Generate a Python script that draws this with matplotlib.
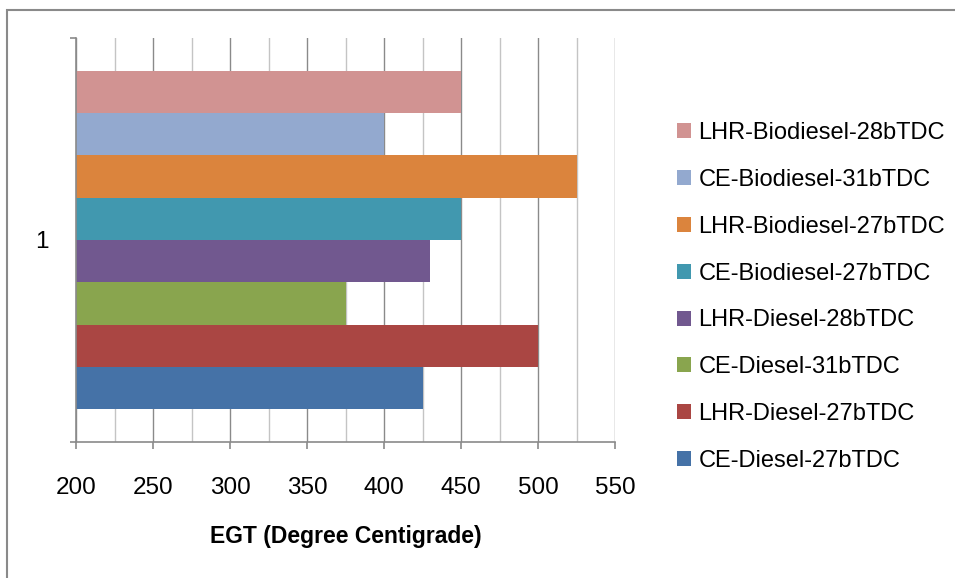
import numpy as np
import matplotlib
matplotlib.use("Agg")
import matplotlib.pyplot as plt
from matplotlib.patches import Rectangle

# series, bottom to top as drawn
series = ["CE-Diesel-27bTDC", "LHR-Diesel-27bTDC", "CE-Diesel-31bTDC", "LHR-Diesel-28bTDC",
          "CE-Biodiesel-27bTDC", "LHR-Biodiesel-27bTDC", "CE-Biodiesel-31bTDC", "LHR-Biodiesel-28bTDC"]
egt = [425, 500, 375, 430, 450, 525, 400, 450]
colors = ["#4572A7", "#AA4643", "#89A54E", "#71588F", "#4198AF", "#DB843D", "#93A9CF", "#D19392"]
category = [1]
xticks = [200, 250, 300, 350, 400, 450, 500, 550]

plt.rcParams['font.family'] = ['Liberation Sans', 'DejaVu Sans']

fig = plt.figure(figsize=(9.55, 5.78), dpi=100)
ax = fig.add_axes([76/955, 1 - 442/578, 539/955, 404/578])

n = len(series)
group = 0.839
h = group / n
handles = []
for i, (name, v, c) in enumerate(zip(series, egt, colors)):
	y = category[0] - group/2 + h*(i + 0.5)
	b = ax.barh(y, v - 200, left=200, height=h, color=c, label=name, zorder=3)
	handles.append(b)

ax.set_xlim(200, 550)
ax.set_ylim(0.5, 1.5)

ax.set_xticks(xticks)
ax.set_xticks(np.arange(225, 550, 50), minor=True)
ax.set_yticks(category)
ax.set_yticklabels(["1"])
ax.set_yticks([0.5, 1.5], minor=True)

for x in xticks:
	ax.axvline(x, color="#8a8a8a", lw=1.0, zorder=1)
for x in np.arange(225, 550, 50):
	ax.axvline(x, color="#c4c4c4", lw=1.0, zorder=1)

for s in ['top', 'right']:
	ax.spines[s].set_visible(False)
for s in ['left', 'bottom']:
	ax.spines[s].set_color("#8a8a8a")
	ax.spines[s].set_linewidth(1.2)
	ax.spines[s].set_zorder(4)

ax.tick_params(axis='x', which='major', length=5, width=1.2, color="#8a8a8a", labelsize=17.5, pad=20)
ax.tick_params(axis='x', which='minor', length=0)
ax.tick_params(axis='y', which='major', length=0, labelsize=17.5, pad=20)
ax.tick_params(axis='y', which='minor', length=4.5, width=1.2, color="#8a8a8a")

ax.set_xlabel("EGT (Degree Centigrade)", fontsize=16.5, fontweight='bold', labelpad=19)

fig.legend(handles[::-1], series[::-1], loc='center left', bbox_to_anchor=(677/955, 1 - 297/578),
	frameon=False, fontsize=17, handlelength=0.6, handleheight=0.6, handletextpad=0.3,
	labelspacing=1.05, borderpad=0, borderaxespad=0)

fig.add_artist(Rectangle((7/955, -0.1), 1.0, 1.1 - 10/578, transform=fig.transFigure,
	fill=False, ec="#8a8a8a", lw=1.5))

fig.savefig("out.png", dpi=100)
